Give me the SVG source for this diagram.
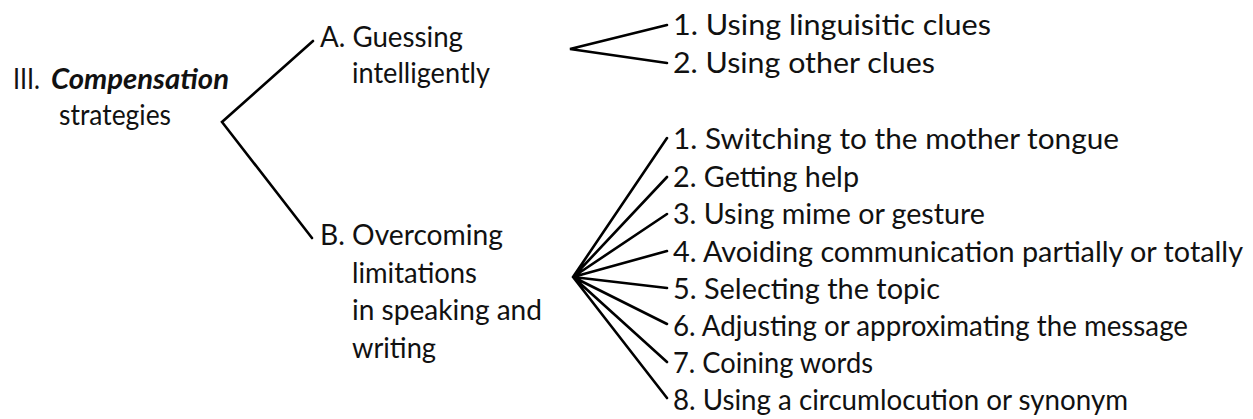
<svg xmlns="http://www.w3.org/2000/svg" width="1253" height="419" viewBox="0 0 1253 419">
  <style>
    .t { font-family: Lato, "Noto Sans", "Liberation Sans", sans-serif; font-size: 29px; fill: #111; }
    .bi { font-weight: bold; font-style: italic; }
    .c { stroke: #000; stroke-width: 2.6; fill: none; stroke-linecap: round; stroke-linejoin: miter; }
  </style>
  <rect width="1253" height="419" fill="#fff"/>

  <!-- connectors -->
  <g id="connectors" class="c">
    <!-- root branches -->
    <polyline points="313,41 222,122 312,238"/>
    <!-- A fan -->
    <polyline points="667,25 570,49 667,63"/>
    <!-- B fan -->
    <path d="M573,277 L667,138 M573,277 L667,177 M573,277 L667,214 M573,277 L667,251 M573,277 L667,288 M573,277 L667,324 M573,277 L667,362 M573,277 L667,398"/>
  </g>

  <g id="root">
    <text class="t" x="13" y="89"><tspan textLength="27" lengthAdjust="spacingAndGlyphs">III.</tspan><tspan class="bi" x="51" textLength="178" lengthAdjust="spacingAndGlyphs">Compensation</tspan></text>
    <text class="t" x="59" y="125" textLength="112" lengthAdjust="spacingAndGlyphs">strategies</text>
  </g>

  <g id="nodeA">
    <text class="t" x="320" y="47" textLength="143" lengthAdjust="spacingAndGlyphs">A. Guessing</text>
    <text class="t" x="352" y="83" textLength="138" lengthAdjust="spacingAndGlyphs">intelligently</text>
  </g>

  <g id="nodeB">
    <text class="t" x="320" y="245" textLength="183" lengthAdjust="spacingAndGlyphs">B. Overcoming</text>
    <text class="t" x="352" y="283" textLength="125" lengthAdjust="spacingAndGlyphs">limitations</text>
    <text class="t" x="352" y="320" textLength="190" lengthAdjust="spacingAndGlyphs">in speaking and</text>
    <text class="t" x="352" y="358" textLength="84" lengthAdjust="spacingAndGlyphs">writing</text>
  </g>

  <g id="A-items">
    <text class="t" x="673" y="35" textLength="318" lengthAdjust="spacingAndGlyphs">1. Using linguisitic clues</text>
    <text class="t" x="673" y="73" textLength="262" lengthAdjust="spacingAndGlyphs">2. Using other clues</text>
  </g>

  <g id="B-items">
    <text class="t" x="673" y="149" textLength="446" lengthAdjust="spacingAndGlyphs">1. Switching to the mother tongue</text>
    <text class="t" x="673" y="187" textLength="186" lengthAdjust="spacingAndGlyphs">2. Getting help</text>
    <text class="t" x="673" y="224" textLength="312" lengthAdjust="spacingAndGlyphs">3. Using mime or gesture</text>
    <text class="t" x="673" y="262" textLength="570" lengthAdjust="spacingAndGlyphs">4. Avoiding communication partially or totally</text>
    <text class="t" x="673" y="299" textLength="267" lengthAdjust="spacingAndGlyphs">5. Selecting the topic</text>
    <text class="t" x="673" y="336" textLength="515" lengthAdjust="spacingAndGlyphs">6. Adjusting or approximating the message</text>
    <text class="t" x="673" y="373" textLength="200" lengthAdjust="spacingAndGlyphs">7. Coining words</text>
    <text class="t" x="673" y="410" textLength="455" lengthAdjust="spacingAndGlyphs">8. Using a circumlocution or synonym</text>
  </g>
</svg>
